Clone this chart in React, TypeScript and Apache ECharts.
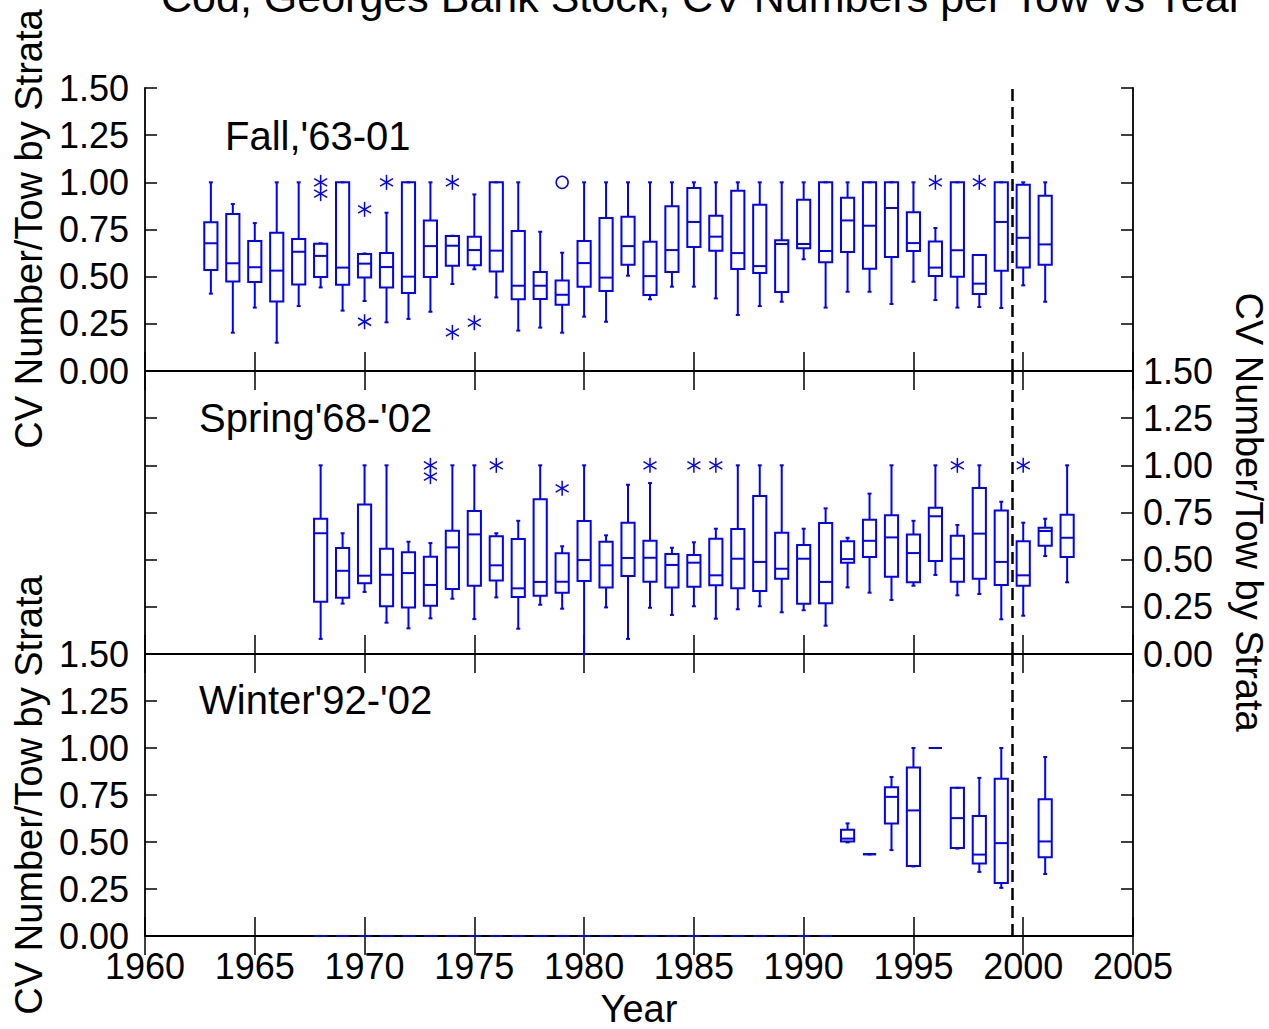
import React, { useEffect, useRef } from "react";
import * as echarts from "echarts";

// ---------- DATA ----------
const xTickValues = [1960, 1965, 1970, 1975, 1980, 1985, 1990, 1995, 2000, 2005];
const yTickValues = [0, 0.25, 0.5, 0.75, 1.0, 1.25, 1.5];
const breakYear = 1999.5;

const titleText = "Cod, Georges Bank Stock, CV Numbers per Tow vs Year";
const yAxisTitle = "CV Number/Tow by Strata";
const xAxisTitle = "Year";
const panelLabels = ["Fall,'63-01", "Spring'68-'02", "Winter'92-'02"];

// [year, low whisker, Q1, median, Q3, high whisker]
const fallBoxes = [
  [1963, 0.41, 0.535, 0.677, 0.788, 1.0],
  [1964, 0.203, 0.475, 0.571, 0.832, 0.885],
  [1965, 0.336, 0.472, 0.55, 0.689, 0.784],
  [1966, 0.15, 0.369, 0.532, 0.733, 1.0],
  [1967, 0.344, 0.459, 0.632, 0.7, 1.0],
  [1968, 0.443, 0.498, 0.61, 0.675, 0.677],
  [1969, 0.32, 0.457, 0.548, 1.0, 1.0],
  [1970, 0.371, 0.495, 0.569, 0.62, 0.623],
  [1971, 0.258, 0.442, 0.551, 0.625, 0.839],
  [1972, 0.276, 0.413, 0.5, 1.0, 1.0],
  [1973, 0.314, 0.498, 0.662, 0.798, 1.0],
  [1974, 0.461, 0.558, 0.664, 0.715, 0.717],
  [1975, 0.539, 0.56, 0.641, 0.712, 0.936],
  [1976, 0.39, 0.528, 0.638, 1.0, 1.0],
  [1977, 0.214, 0.38, 0.452, 0.742, 1.0],
  [1978, 0.23, 0.382, 0.452, 0.525, 0.738],
  [1979, 0.203, 0.351, 0.404, 0.48, 0.627],
  [1980, 0.288, 0.447, 0.572, 0.689, 1.0],
  [1981, 0.261, 0.424, 0.495, 0.811, 1.0],
  [1982, 0.505, 0.563, 0.662, 0.818, 1.0],
  [1983, 0.38, 0.403, 0.503, 0.685, 1.0],
  [1984, 0.447, 0.525, 0.641, 0.873, 1.0],
  [1985, 0.447, 0.657, 0.79, 0.97, 1.0],
  [1986, 0.385, 0.638, 0.712, 0.823, 1.0],
  [1987, 0.297, 0.54, 0.625, 0.955, 1.0],
  [1988, 0.344, 0.519, 0.556, 0.881, 1.0],
  [1989, 0.367, 0.419, 0.673, 0.693, 1.0],
  [1990, 0.592, 0.65, 0.673, 0.908, 1.0],
  [1991, 0.336, 0.576, 0.636, 1.0, 1.0],
  [1992, 0.42, 0.631, 0.798, 0.918, 1.0],
  [1993, 0.42, 0.542, 0.77, 1.0, 1.0],
  [1994, 0.355, 0.604, 0.864, 1.0, 1.0],
  [1995, 0.473, 0.636, 0.678, 0.841, 1.0],
  [1996, 0.376, 0.503, 0.548, 0.687, 0.758],
  [1997, 0.336, 0.5, 0.64, 1.0, 1.0],
  [1998, 0.339, 0.408, 0.463, 0.615, 0.615],
  [1999, 0.334, 0.532, 0.79, 1.0, 1.0],
  [2000, 0.454, 0.548, 0.706, 0.987, 1.0],
  [2001, 0.367, 0.563, 0.671, 0.929, 1.0],
];

const springBoxes = [
  [1968, 0.08, 0.277, 0.64, 0.717, 1.0],
  [1969, 0.267, 0.298, 0.441, 0.562, 0.64],
  [1970, 0.329, 0.375, 0.415, 0.793, 1.0],
  [1971, 0.166, 0.253, 0.42, 0.558, 1.0],
  [1972, 0.136, 0.247, 0.429, 0.539, 0.595],
  [1973, 0.189, 0.256, 0.366, 0.516, 0.588],
  [1974, 0.293, 0.344, 0.565, 0.653, 1.0],
  [1975, 0.185, 0.362, 0.634, 0.758, 1.0],
  [1976, 0.3, 0.389, 0.47, 0.624, 0.64],
  [1977, 0.134, 0.302, 0.348, 0.609, 0.706],
  [1978, 0.261, 0.309, 0.382, 0.82, 1.0],
  [1979, 0.24, 0.325, 0.383, 0.534, 0.571],
  [1980, 0.0, 0.387, 0.498, 0.705, 1.0],
  [1981, 0.247, 0.353, 0.47, 0.595, 0.629],
  [1982, 0.08, 0.413, 0.509, 0.696, 0.897],
  [1983, 0.245, 0.383, 0.51, 0.6, 0.906],
  [1984, 0.207, 0.353, 0.472, 0.53, 0.563],
  [1985, 0.253, 0.357, 0.484, 0.525, 0.592],
  [1986, 0.187, 0.364, 0.417, 0.611, 0.664],
  [1987, 0.237, 0.348, 0.505, 0.662, 1.0],
  [1988, 0.253, 0.334, 0.488, 0.837, 1.0],
  [1989, 0.221, 0.399, 0.452, 0.643, 1.0],
  [1990, 0.232, 0.267, 0.505, 0.578, 0.664],
  [1991, 0.15, 0.269, 0.382, 0.694, 0.772],
  [1992, 0.353, 0.484, 0.503, 0.597, 0.616],
  [1993, 0.325, 0.514, 0.6, 0.712, 0.85],
  [1994, 0.286, 0.41, 0.618, 0.735, 1.0],
  [1995, 0.362, 0.38, 0.535, 0.634, 0.706],
  [1996, 0.419, 0.493, 0.73, 0.775, 1.0],
  [1997, 0.311, 0.383, 0.505, 0.627, 0.684],
  [1998, 0.318, 0.399, 0.638, 0.88, 1.0],
  [1999, 0.184, 0.366, 0.488, 0.761, 0.807],
  [2000, 0.203, 0.362, 0.417, 0.597, 0.696],
  [2001, 0.519, 0.574, 0.652, 0.669, 0.717],
  [2002, 0.38, 0.514, 0.616, 0.738, 1.0],
];

const winterBoxes = [
  [1968, 0, 0, 0, 0, 0],
  [1969, 0, 0, 0, 0, 0],
  [1970, 0, 0, 0, 0, 0],
  [1971, 0, 0, 0, 0, 0],
  [1972, 0, 0, 0, 0, 0],
  [1973, 0, 0, 0, 0, 0],
  [1974, 0, 0, 0, 0, 0],
  [1975, 0, 0, 0, 0, 0],
  [1976, 0, 0, 0, 0, 0],
  [1977, 0, 0, 0, 0, 0],
  [1978, 0, 0, 0, 0, 0],
  [1979, 0, 0, 0, 0, 0],
  [1980, 0, 0, 0, 0, 0],
  [1981, 0, 0, 0, 0, 0],
  [1982, 0, 0, 0, 0, 0],
  [1983, 0, 0, 0, 0, 0],
  [1984, 0, 0, 0, 0, 0],
  [1985, 0, 0, 0, 0, 0],
  [1986, 0, 0, 0, 0, 0],
  [1987, 0, 0, 0, 0, 0],
  [1988, 0, 0, 0, 0, 0],
  [1989, 0, 0, 0, 0, 0],
  [1990, 0, 0, 0, 0, 0],
  [1991, 0, 0, 0, 0, 0],
  [1992, 0.498, 0.503, 0.518, 0.565, 0.599],
  [1993, 0.435, 0.435, 0.435, 0.435, 0.435],
  [1994, 0.457, 0.599, 0.74, 0.791, 0.846],
  [1995, 0.37, 0.373, 0.668, 0.896, 1.0],
  [1996, 1.0, 1.0, 1.0, 1.0, 1.0],
  [1997, 0.465, 0.468, 0.627, 0.788, 0.788],
  [1998, 0.341, 0.385, 0.433, 0.638, 0.841],
  [1999, 0.256, 0.282, 0.494, 0.837, 1.0],
  [2001, 0.33, 0.419, 0.503, 0.728, 0.952],
];

// [year, value, marker: 0 = asterisk, 1 = circle]
const fallOutliers = [
  [1968, 1.0, 0],
  [1968, 0.94, 0],
  [1970, 0.857, 0],
  [1970, 0.261, 0],
  [1971, 1.0, 0],
  [1974, 1.0, 0],
  [1974, 0.205, 0],
  [1975, 0.256, 0],
  [1979, 1.0, 1],
  [1996, 1.0, 0],
  [1998, 1.0, 0],
];

const springOutliers = [
  [1973, 1.0, 0],
  [1973, 0.94, 0],
  [1976, 1.0, 0],
  [1979, 0.878, 0],
  [1983, 1.0, 0],
  [1985, 1.0, 0],
  [1986, 1.0, 0],
  [1997, 1.0, 0],
  [2000, 1.0, 0],
];

const winterOutliers: number[][] = [];

// ---------- STYLE ----------
const BLUE = "#0000ff";
const FONT = "'Liberation Sans', Arial, Helvetica, sans-serif";

const PANEL_TOPS = [88, 371, 654];
const PANEL_H = [283, 283, 282];
const GRID_LEFT = 145;
const GRID_RIGHT = 1269 - 1133;

function boxRenderItem(params: any, api: any) {
  const x = api.value(0);
  const lowP = api.coord([x, api.value(1)]);
  const q1 = api.coord([x, api.value(2)])[1];
  const med = api.coord([x, api.value(3)])[1];
  const q3 = api.coord([x, api.value(4)])[1];
  const high = api.coord([x, api.value(5)])[1];
  const cx = lowP[0];
  const low = lowP[1];
  const hw = api.size([0.6, 0])[0] / 2;
  const style = { stroke: BLUE, fill: "none", lineWidth: 2 };
  return {
    type: "group",
    children: [
      { type: "line", shape: { x1: cx, y1: high, x2: cx, y2: q3 }, style },
      { type: "line", shape: { x1: cx, y1: q1, x2: cx, y2: low }, style },
      { type: "line", shape: { x1: cx - 2, y1: high, x2: cx + 2, y2: high }, style },
      { type: "line", shape: { x1: cx - 2, y1: low, x2: cx + 2, y2: low }, style },
      { type: "rect", shape: { x: cx - hw, y: q3, width: hw * 2, height: Math.max(q1 - q3, 0) }, style },
      { type: "line", shape: { x1: cx - hw, y1: med, x2: cx + hw, y2: med }, style },
    ],
  };
}

function outlierRenderItem(params: any, api: any) {
  const p = api.coord([api.value(0), api.value(1)]);
  const kind = api.value(2);
  const style = { stroke: BLUE, fill: "none", lineWidth: 1.5 };
  if (kind === 1) {
    return { type: "circle", shape: { cx: p[0], cy: p[1], r: 6 }, style };
  }
  const r = 7.5;
  const dx = r * 0.866;
  const dy = r * 0.5;
  return {
    type: "group",
    children: [
      { type: "line", shape: { x1: p[0], y1: p[1] - r, x2: p[0], y2: p[1] + r }, style },
      { type: "line", shape: { x1: p[0] - dx, y1: p[1] - dy, x2: p[0] + dx, y2: p[1] + dy }, style },
      { type: "line", shape: { x1: p[0] - dx, y1: p[1] + dy, x2: p[0] + dx, y2: p[1] - dy }, style },
    ],
  };
}

function buildOption() {
  const boxesList = [fallBoxes, springBoxes, winterBoxes];
  const outList = [fallOutliers, springOutliers, winterOutliers];
  const grid: any[] = [];
  const xAxis: any[] = [];
  const yAxis: any[] = [];
  const series: any[] = [];
  const axisLine = { show: true, lineStyle: { color: "#000", width: 1.8 } };
  const yFmt = (v: number) => v.toFixed(2);

  for (let i = 0; i < 3; i++) {
    grid.push({ left: GRID_LEFT, right: GRID_RIGHT, top: PANEL_TOPS[i], height: PANEL_H[i] });
    const xBase = {
      type: "value",
      gridIndex: i,
      min: xTickValues[0],
      max: xTickValues[xTickValues.length - 1],
      interval: 5,
      axisLine,
      splitLine: { show: false },
      axisTick: { show: true, inside: true, length: 19, lineStyle: { color: "#000", width: 1.5 } },
    };
    xAxis.push({
      ...xBase,
      position: "bottom",
      axisLabel: {
        show: i === 2,
        showMinLabel: true,
        showMaxLabel: true,
        color: "#000",
        fontFamily: FONT,
        fontSize: 36,
        margin: 12,
        formatter: (v: number) => String(v),
      },
    });
    xAxis.push({ ...xBase, position: "top", axisLabel: { show: false } });
    const yBase = {
      type: "value",
      gridIndex: i,
      min: yTickValues[0],
      max: yTickValues[yTickValues.length - 1],
      interval: 0.25,
      axisLine,
      splitLine: { show: false },
      axisTick: { show: true, inside: true, length: 12, lineStyle: { color: "#000", width: 1.5 } },
    };
    yAxis.push({
      ...yBase,
      position: "left",
      axisLabel: {
        show: i !== 1,
        showMinLabel: true,
        showMaxLabel: true,
        color: "#000",
        fontFamily: FONT,
        fontSize: 36,
        margin: 16,
        formatter: yFmt,
      },
    });
    yAxis.push({
      ...yBase,
      position: "right",
      axisLabel: {
        show: i === 1,
        showMinLabel: true,
        showMaxLabel: true,
        color: "#000",
        fontFamily: FONT,
        fontSize: 36,
        margin: 10,
        formatter: yFmt,
      },
    });

    series.push({
      type: "custom",
      xAxisIndex: i * 2,
      yAxisIndex: i * 2,
      data: boxesList[i],
      encode: { x: 0, y: [1, 2, 3, 4, 5] },
      renderItem: boxRenderItem,
      z: 3,
      markLine: {
        silent: true,
        symbol: ["none", "none"],
        label: { show: false },
        lineStyle: { color: "#000", width: 2.5, type: [12, 6] },
        data: [{ xAxis: breakYear }],
      },
    });
    series.push({
      type: "custom",
      xAxisIndex: i * 2,
      yAxisIndex: i * 2,
      data: outList[i],
      encode: { x: 0, y: 1 },
      renderItem: outlierRenderItem,
      z: 3,
    });
  }

  const graphic: any[] = [
    {
      type: "text",
      x: 702,
      y: -3,
      style: { text: titleText, fill: "#000", font: `43px ${FONT}`, align: "center", verticalAlign: "middle" },
    },
    {
      type: "text",
      x: 29,
      y: 229,
      rotation: Math.PI / 2,
      style: { text: yAxisTitle, fill: "#000", font: `38px ${FONT}`, align: "center", verticalAlign: "middle" },
    },
    {
      type: "text",
      x: 29,
      y: 795,
      rotation: Math.PI / 2,
      style: { text: yAxisTitle, fill: "#000", font: `38px ${FONT}`, align: "center", verticalAlign: "middle" },
    },
    {
      type: "text",
      x: 1249,
      y: 512,
      rotation: -Math.PI / 2,
      style: { text: yAxisTitle, fill: "#000", font: `38px ${FONT}`, align: "center", verticalAlign: "middle" },
    },
    {
      type: "text",
      x: 639,
      y: 1009,
      style: { text: xAxisTitle, fill: "#000", font: `38px ${FONT}`, align: "center", verticalAlign: "middle" },
    },
    {
      type: "text",
      x: 225,
      y: 136,
      style: { text: panelLabels[0], fill: "#000", font: `40px ${FONT}`, align: "left", verticalAlign: "middle" },
    },
    {
      type: "text",
      x: 199,
      y: 418,
      style: { text: panelLabels[1], fill: "#000", font: `40px ${FONT}`, align: "left", verticalAlign: "middle" },
    },
    {
      type: "text",
      x: 199,
      y: 700,
      style: { text: panelLabels[2], fill: "#000", font: `40px ${FONT}`, align: "left", verticalAlign: "middle" },
    },
  ];

  return {
    animation: false,
    backgroundColor: "#ffffff",
    grid,
    xAxis,
    yAxis,
    series,
    graphic,
  };
}

export default function App() {
  const ref = useRef<HTMLDivElement>(null);
  useEffect(() => {
    document.body.style.margin = "0";
    if (!ref.current) return;
    const chart = echarts.init(ref.current, undefined, { renderer: "svg" });
    chart.setOption(buildOption() as any);
    return () => chart.dispose();
  }, []);
  return <div ref={ref} style={{ width: 1269, height: 1029 }} />;
}
